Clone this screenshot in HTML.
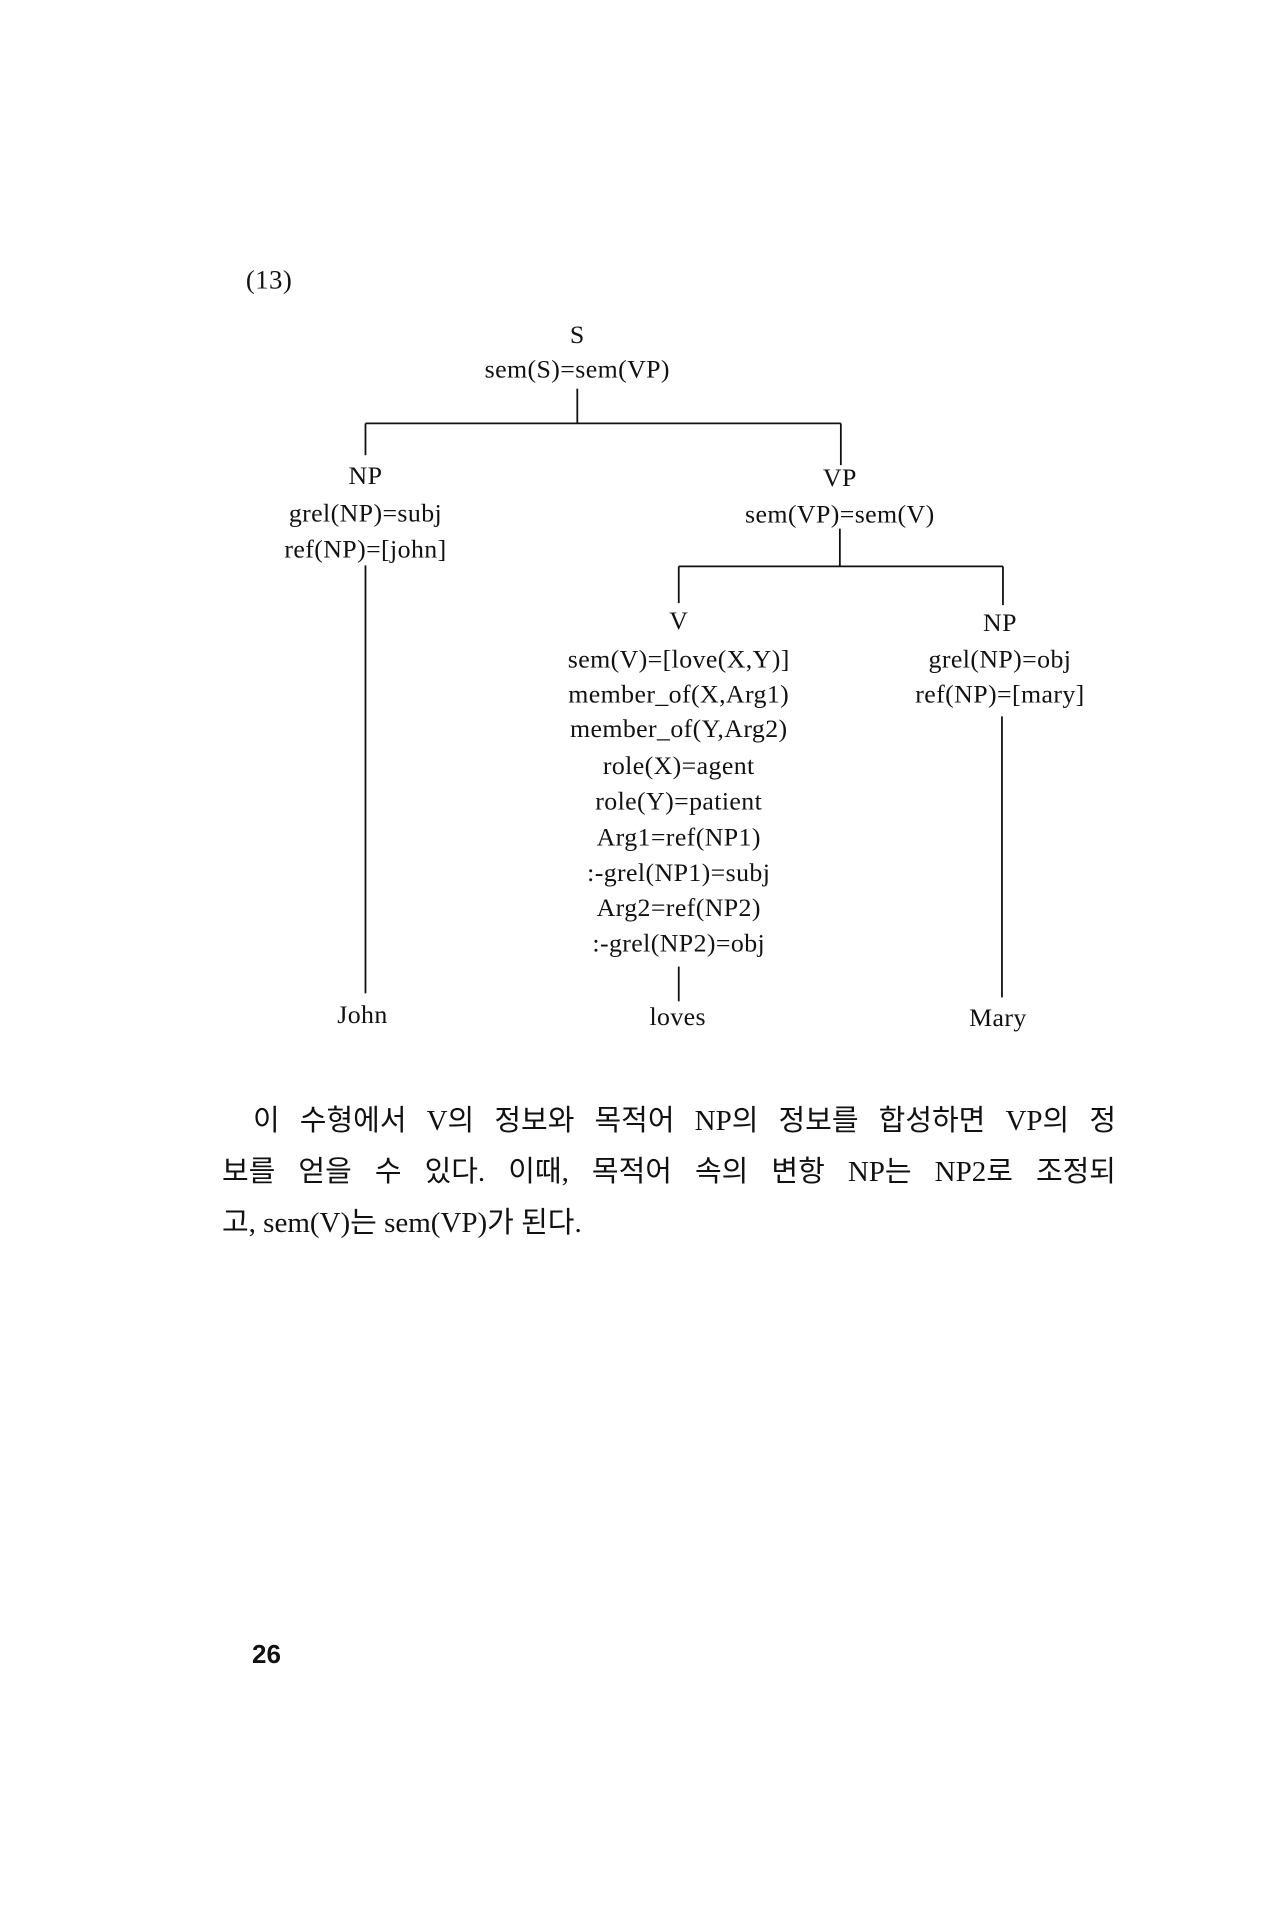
<!DOCTYPE html>
<html><head><meta charset="utf-8"><style>
html,body{margin:0;padding:0;background:#fff;}
body{width:1263px;height:1920px;position:relative;overflow:hidden;}
svg{position:absolute;left:0;top:0;}
.t{font-family:"Liberation Serif","Noto Serif CJK KR",serif;font-size:26px;fill:#111;letter-spacing:0.4px;}
.p{position:absolute;left:222px;width:894px;font-family:"Liberation Serif","Noto Sans CJK KR",sans-serif;font-size:29px;color:#111;white-space:nowrap;}
.j{text-align:justify;text-align-last:justify;white-space:normal;}
</style></head><body>
<svg width="1263" height="1920" viewBox="0 0 1263 1920">
<g transform="translate(-0.5,-0.6) scale(0.9945,0.993)">
<g stroke="#111" stroke-width="1.8" fill="none">
<line x1="581" y1="392" x2="581" y2="427"/>
<line x1="368" y1="427" x2="846" y2="427"/>
<line x1="368" y1="427" x2="368" y2="459"/>
<line x1="846" y1="427" x2="846" y2="469"/>
<line x1="368" y1="570" x2="368" y2="1001"/>
<line x1="845" y1="533" x2="845" y2="571"/>
<line x1="683" y1="571" x2="1009" y2="571"/>
<line x1="683" y1="571" x2="683" y2="608"/>
<line x1="1009" y1="571" x2="1009" y2="610"/>
<line x1="683" y1="974" x2="683" y2="1009"/>
<line x1="1008" y1="722" x2="1008" y2="1005"/>
</g>
<g class="t" text-anchor="middle">
<text x="271" y="291" font-size="27">(13)</text>
<text x="581" y="346">S</text>
<text x="581" y="381">sem(S)=sem(VP)</text>
<text x="368" y="488">NP</text>
<text x="368" y="526">grel(NP)=subj</text>
<text x="368" y="562">ref(NP)=[john]</text>
<text x="845" y="490">VP</text>
<text x="845" y="527">sem(VP)=sem(V)</text>
<text x="683" y="634">V</text>
<text x="683" y="673">sem(V)=[love(X,Y)]</text>
<text x="683" y="708">member_of(X,Arg1)</text>
<text x="683" y="743">member_of(Y,Arg2)</text>
<text x="683" y="780">role(X)=agent</text>
<text x="683" y="816">role(Y)=patient</text>
<text x="683" y="852">Arg1=ref(NP1)</text>
<text x="683" y="888">:-grel(NP1)=subj</text>
<text x="683" y="923">Arg2=ref(NP2)</text>
<text x="683" y="959">:-grel(NP2)=obj</text>
<text x="1006" y="636">NP</text>
<text x="1006" y="673">grel(NP)=obj</text>
<text x="1006" y="708">ref(NP)=[mary]</text>
<text x="365" y="1031">John</text>
<text x="682" y="1033">loves</text>
<text x="1004" y="1034">Mary</text>
</g>
</g>
<text x="252" y="1663" font-family="Liberation Sans, sans-serif" font-weight="bold" font-size="26" fill="#111">26</text>
</svg>
<div class="p j" style="top:1097px;padding-left:31px;width:863px;">이 수형에서 V의 정보와 목적어 NP의 정보를 합성하면 VP의 정</div>
<div class="p j" style="top:1148px;">보를 얻을 수 있다. 이때, 목적어 속의 변항 NP는 NP2로 조정되</div>
<div class="p" style="top:1199px;">고, sem(V)는 sem(VP)가 된다.</div>
</body></html>
